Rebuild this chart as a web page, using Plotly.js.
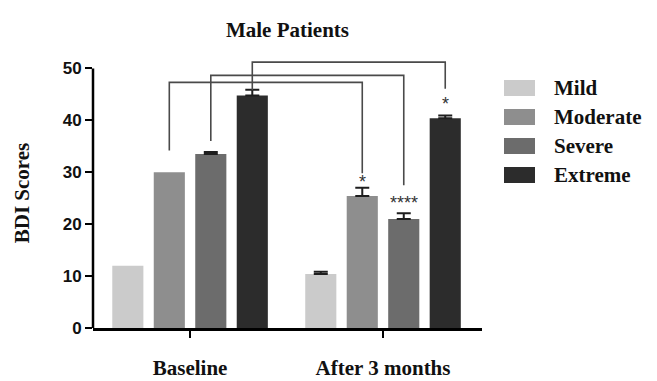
<!DOCTYPE html>
<html>
<head>
<meta charset="utf-8">
<script src="https://cdn.plot.ly/plotly-3.0.1.min.js"></script>
<style>html,body{margin:0;padding:0;background:#fff;}#chart{width:657px;height:381px;}</style>
</head>
<body>
<div id="chart"></div>
<script>
// ---- data ----
const timepoints = ['Baseline', 'After 3 months'];
const severities = ['Mild', 'Moderate', 'Severe', 'Extreme'];
const mildScores = [12, 10.4];
const moderateScores = [30, 25.4];
const severeScores = [33.5, 21];
const extremeScores = [44.8, 40.4];
const mildErr = [null, 0.45];      // null = no visible error bar
const moderateErr = [null, 1.6];
const severeErr = [0.4, 1.1];
const extremeErr = [1.1, 0.55];
const colors = ['#cbcbcb', '#8e8e8e', '#6c6c6c', '#2c2c2c'];
// significance brackets (Baseline bar -> After 3 months bar of the same severity)
const bracketSeverity = ['Moderate', 'Severe', 'Extreme'];
const bracketLeftY = [34.2, 36.0, 45.8];
const bracketTopY = [47.3, 48.65, 51.2];
const bracketRightY = [29.8, 27.5, 46.1];
const sigLabels = ['*', '****', '*'];
const sigY = [28.2, 24.0, 43.2];

const scores = [mildScores, moderateScores, severeScores, extremeScores];
const errs = [mildErr, moderateErr, severeErr, extremeErr];

const serif = '"Liberation Serif", "Times New Roman", serif';
const sans = '"Liberation Sans", Arial, sans-serif';
const bargap = 0.14, bargroupgap = 0.25;
const slot = (1 - bargap) / severities.length;

// one trace per bar (sharing an offsetgroup per severity) so bars without SEM get no error cap
const traces = [];
severities.forEach((s, i) => {
  timepoints.forEach((t, j) => {
    const e = errs[i][j];
    traces.push({
      type: 'bar', name: s, x: [t], y: [scores[i][j]], offsetgroup: s, legendgroup: s,
      marker: {color: colors[i], line: {width: 0}},
      error_y: e == null ? {visible: false} :
        {type: 'data', symmetric: false, array: [e], arrayminus: [0],
         visible: true, color: '#1e1e1e', thickness: 2, width: 7},
      showlegend: false, hoverinfo: 'skip'
    });
  });
});

const shapes = [];
const annotations = [];
// y axis line from 0 to 50
shapes.push({type: 'line', xref: 'paper', yref: 'y', x0: 0, x1: 0, y0: 0, y1: 50,
             line: {color: '#000', width: 2.5}});
bracketSeverity.forEach((s, k) => {
  const i = severities.indexOf(s);
  const off = (i - (severities.length - 1) / 2) * slot;
  const xl = 0 + off, xr = 1 + off;
  const ln = {color: '#4a4a4a', width: 1.6};
  shapes.push({type: 'path', xref: 'x', yref: 'y',
    path: `M${xl},${bracketLeftY[k]} V${bracketTopY[k]} H${xr} V${bracketRightY[k]}`, line: ln});
  annotations.push({xref: 'x', yref: 'y', x: xr, y: sigY[k], text: sigLabels[k], showarrow: false,
    font: {family: sans, size: 18, color: '#333'}, yanchor: 'middle'});
});
// legend (drawn manually to get large swatches)
const plotL = 93, plotW = 389, plotB = 328, plotH = 270;
severities.forEach((s, i) => {
  const cy = 88 + i * 29;
  shapes.push({type: 'rect', xref: 'paper', yref: 'paper',
    x0: (504 - plotL) / plotW, x1: (535 - plotL) / plotW,
    y0: (plotB - (cy + 8)) / plotH, y1: (plotB - (cy - 8)) / plotH,
    fillcolor: colors[i], line: {width: 0}});
  annotations.push({xref: 'paper', yref: 'paper', x: (552 - plotL) / plotW, y: (plotB - cy) / plotH,
    xanchor: 'left', yanchor: 'middle', text: '<b>' + s + '</b>', showarrow: false,
    font: {family: serif, size: 21, color: '#111'}});
});

const layout = {
  width: 657, height: 381,
  margin: {l: 93, r: 175, t: 58, b: 53},
  paper_bgcolor: '#fff', plot_bgcolor: '#fff',
  barmode: 'group', bargap: bargap, bargroupgap: bargroupgap,
  title: {text: '<b>Male Patients</b>', font: {family: serif, size: 21, color: '#111'},
          xref: 'paper', x: 0.5, xanchor: 'center', yref: 'container', y: 1 - 30 / 381, yanchor: 'middle'},
  xaxis: {type: 'category', categoryorder: 'array', categoryarray: timepoints,
          range: [-0.503, 1.513], showline: true, linecolor: '#000', linewidth: 2.5,
          ticks: 'outside', ticklen: 7, tickwidth: 2, tickcolor: '#000', showgrid: false, zeroline: false,
          ticklabelstandoff: 12,
          tickfont: {family: serif, size: 21, color: '#111', weight: 'bold'}},
  yaxis: {range: [0, 52], showline: false, tickvals: [0, 10, 20, 30, 40, 50], ticks: 'outside', ticklen: 7,
          tickwidth: 2, tickcolor: '#000', showgrid: false, zeroline: false,
          tickfont: {family: sans, size: 17, color: '#111', weight: 'bold'},
          title: {text: '<b>BDI Scores</b>', font: {family: serif, size: 21, color: '#111'}, standoff: 27}},
  shapes: shapes, annotations: annotations, showlegend: false
};
Plotly.newPlot('chart', traces, layout, {displayModeBar: false, staticPlot: true});
</script>
</body>
</html>
